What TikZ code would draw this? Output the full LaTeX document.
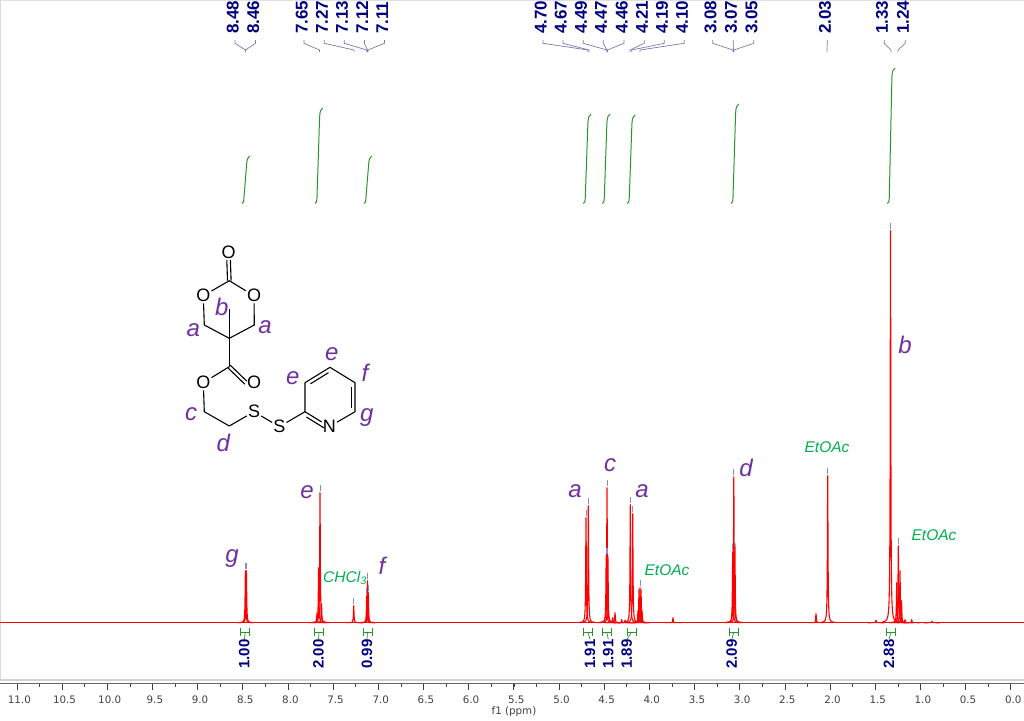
\documentclass[tikz,border=0pt]{standalone}
\usepackage{fontspec}
\setmainfont{Liberation Sans}
\newfontfamily\tickfont{DejaVu Sans}
\usetikzlibrary{calc}
\definecolor{shiftblue}{HTML}{00007F}
\definecolor{linkblue}{HTML}{7A7AB8}
\definecolor{markblue}{HTML}{8A8AD0}
\definecolor{intgreen}{HTML}{2A962A}
\definecolor{solvgreen}{HTML}{00B050}
\definecolor{protonviolet}{HTML}{7030A0}
\definecolor{axisgrey}{HTML}{404040}
\tikzset{
  shiftlabel/.style={rotate=90, anchor=west, inner sep=0pt, text=shiftblue, font=\fontsize{17}{17}\selectfont\bfseries},
  intlabel/.style={rotate=90, anchor=west, inner sep=0pt, text=shiftblue, font=\fontsize{15}{15}\selectfont\bfseries},
  shiftlink/.style={draw=linkblue, line width=0.7pt},
  peakmark/.style={draw=markblue, line width=1pt},
  spectrum/.style={draw=red, line width=1.1pt, line join=round},
  intcurve/.style={draw=intgreen, line width=1pt},
  intbar/.style={draw=intgreen, line width=0.9pt, |-|},
  atom/.style={inner sep=1pt, font=\fontsize{18}{18}\selectfont},
  bond/.style={draw=black, line width=1.1pt},
  proton/.style={text=protonviolet, inner sep=0pt, font=\fontsize{24}{24}\selectfont\itshape},
  solvent/.style={text=solvgreen, inner sep=0pt, font=\fontsize{15.5}{16}\selectfont\itshape},
  ticklabel/.style={text=axisgrey, inner sep=0pt, font=\tickfont\fontsize{10.3}{11}\selectfont}
}
% second line of a double bond, on one side of (#1)--(#2)
\newcommand{\innerbond}[2]{\draw[bond] ($(#1)!0.14!(#2)!3.8pt!-90:(#2)$) -- ($(#2)!0.14!(#1)!3.8pt!90:(#1)$);}
\begin{document}
\begin{tikzpicture}[x=1pt,y=-1pt]
\useasboundingbox (0,0) rectangle (1024,720);
\fill[white] (0,0) rectangle (1024,720);
\fill[black!12] (0,0) rectangle (1024,1.2);
\fill[black!15] (0,0) rectangle (1,680);
% Axis
\fill[black!18] (0,679) rectangle (1024,681);
\draw[black!60, line width=0.7pt] (0,683.5) -- (1024,683.5);
\foreach \k in {0,...,44} {
  \draw[axisgrey, line width=0.5pt] ({1010.7-22.5875*\k},683.5) -- ({1010.7-22.5875*\k},687);
}
\foreach \v [count=\i] in {0.0,0.5,1.0,1.5,2.0,2.5,3.0,3.5,4.0,4.5,5.0,5.5,6.0,6.5,7.0,7.5,8.0,8.5,9.0,9.5,10.0,10.5,11.0} {
  \draw[axisgrey, line width=0.6pt] ({1010.7-90.35*\v},683.5) -- ({1010.7-90.35*\v},690);
  \node[ticklabel] (tick\i) at ({1013.2-90.35*\v},700) {\v};
}
\node[ticklabel] (axisname) at (514,712) {f1 (ppm)};
% Spectrum
\draw[spectrum] (0,622.7) -- (1024,622.7);
\foreach \pk/\h in {245.4/52,246.4/52,317/10,318.6/55,320/130,321.5/19,353.7/17,366.7/27,367.5/42,368.3/30,
    586/105,588.3/117,606.2/67,607/135,607.9/67,612.7/5,615/10,621.7/3,625/2.5,630.3/118,632.7/109,
    638/12,639/33,640/35,641/33,642/12,673/5,732.7/71,733.8/146,734.9/79,
    816/9,827.7/147,876/2.5,890.5/392,896.7/40,898.3/77,900/52,901.5/22,905/3,911.7/3,932/1.5} {
  \draw[spectrum] plot[variable=\t, domain=-8:8, samples=129] ({\pk+\t}, {622.7-\h/(1+(\t/0.35)^2)});
}
\foreach \pk/\h in {245.4/52,246.4/52,320/130,353.7/17,366.7/27,367.5/42,368.3/30,
    586/105,588.3/117,606.2/67,607/135,607.9/67,630.3/118,632.7/109,640/35,
    732.7/71,733.8/146,734.9/79,827.7/147,890.5/392,898.3/77} {
  \draw[peakmark] (\pk,{622.7-\h-8}) -- (\pk,{622.7-\h-2});
}
% Shift labels and their links
\foreach \txt/\lx/\px [count=\i] in {8.48/232.7/245.5,8.46/253.3/245.5,7.65/301.7/319.5,7.27/322/354,7.13/342/366.7,7.12/362.2/367.5,7.11/382.2/368,
    4.70/540.7/588,4.67/560.7/589,4.49/581/607,4.47/601/607,4.46/621.7/607.5,4.21/642/630,4.19/662/631.7,4.10/682/640,
    3.08/710.5/733,3.07/731/733.5,3.05/751.5/734,2.03/825/827,1.33/882/891,1.24/903/898} {
  \node[shiftlabel] (shift\i) at (\lx,34) {\txt};
  \coordinate (top\i) at (\lx+2.2,40);
  \coordinate (end\i) at (\px,52);
  \draw[shiftlink] (top\i) -- ++(0,3.3) -- (\px,50) -- (end\i);
}
% Integral curves
\foreach \ix/\iy in {242/156,315/108,364/156,583.3/114,602.3/114,627.3/115,731/104,887.3/68} {
  \draw[intcurve] (\ix,203.5) .. controls (\ix+1.6,203.5) and (\ix+1.8,201) .. (\ix+2,197)
    -- (\ix+4.6,\iy+9) .. controls (\ix+4.9,\iy+3) and (\ix+6,\iy+1) .. (\ix+7.8,\iy);
}
% Integral values
\foreach \txt/\lx/\bx/\n in {1.00/244.3/245.3/a,2.00/318.5/319/b,0.99/367/367.5/c,1.91/590/587.8/d,1.91/608.3/606.7/e,
    1.89/626.7/631.8/f,2.09/731.7/733.8/g,2.88/889/891/h} {
  \node[intlabel] (int\n) at (\lx,669) {\txt};
  \coordinate (bar\n) at (\bx,632);
  \draw[intbar] (\bx-5,632) -- (\bx+5,632);
  \draw[draw=intgreen, line width=0.7pt] (bar\n) -- (int\n.east);
}
% Solvent labels
\node[solvent] (chcl) at (345,578) {CHCl$_{\mathit 3}$};
\node[solvent] (etoacA) at (667,570) {EtOAc};
\node[solvent] (etoacB) at (827,447) {EtOAc};
\node[solvent] (etoacC) at (934,535) {EtOAc};
% Peak assignments
\node[proton] (pkg) at (232,559) {g};
\node[proton] (pke) at (307,492) {e};
\node[proton] (pkf) at (382,566) {f};
\node[proton] (pkaA) at (575,491) {a};
\node[proton] (pkc) at (610,465) {c};
\node[proton] (pkaB) at (642,491) {a};
\node[proton] (pkd) at (746,468) {d};
\node[proton] (pkb) at (905,345) {b};
% Molecule
\node[atom] (otop) at (228.6,252.3) {O};
\node[atom] (ol) at (203.3,295.7) {O};
\node[atom] (or) at (254,295.7) {O};
\node[atom] (oest) at (203.3,382.7) {O};
\node[atom] (ocarb) at (254,382.7) {O};
\node[atom] (sa) at (254,411.7) {S};
\node[atom] (sb) at (279.3,426.7) {S};
\node[atom] (nit) at (329.3,426.7) {N};
\coordinate (cco) at (229.3,280.7);
\coordinate (chl) at (204.3,325);
\coordinate (chr) at (254.3,325);
\coordinate (cq) at (229.3,338.3);
\coordinate (cme) at (229.3,309.3);
\coordinate (cest) at (229.3,366.7);
\coordinate (chc) at (204.3,411.7);
\coordinate (chd) at (229.3,426);
\coordinate (py2) at (305,411.7);
\coordinate (py3) at (305,382.7);
\coordinate (py4) at (330,367.3);
\coordinate (py5) at (355,382.7);
\coordinate (py6) at (355,411.7);
\draw[bond, line join=round] (ol) -- (cco) -- (or);
\draw[bond, line join=round] (ol) -- (chl) -- (cq) -- (chr) -- (or);
\draw[bond] (cme) -- (cq) -- (cest);
\draw[bond] (cest) -- (oest);
\draw[bond, line join=round] (oest) -- (chc) -- (chd) -- (sa) -- (sb) -- (py2);
\draw[bond, line join=round] (nit) -- (py2) -- (py3) -- (py4) -- (py5) -- (py6) -- (nit);
\draw[bond] ($(cco)+(-1.8,0)$) -- ($(otop.south)+(-1.8,0)$);
\draw[bond] ($(cco)+(1.8,0)$) -- ($(otop.south)+(1.8,0)$);
\draw[bond] ($(cest)+(-0.9,1.6)$) -- ($(ocarb.west)+(-0.9,1.6)$);
\draw[bond] ($(cest)+(0.9,-1.6)$) -- ($(ocarb.west)+(0.9,-1.6)$);
\innerbond{py3}{py4}
\innerbond{py5}{py6}
\innerbond{py2}{nit}
% Proton labels on the molecule
\node[proton] (hal) at (193.3,330) {a};
\node[proton] (hb) at (221.7,307) {b};
\node[proton] (har) at (265,326.7) {a};
\node[proton] (hea) at (331.7,354) {e};
\node[proton] (heb) at (292.7,378.3) {e};
\node[proton] (hf) at (365,373) {f};
\node[proton] (hg) at (366.7,418) {g};
\node[proton] (hc) at (191,414) {c};
\node[proton] (hd) at (223.3,442.7) {d};
\end{tikzpicture}
\end{document}
